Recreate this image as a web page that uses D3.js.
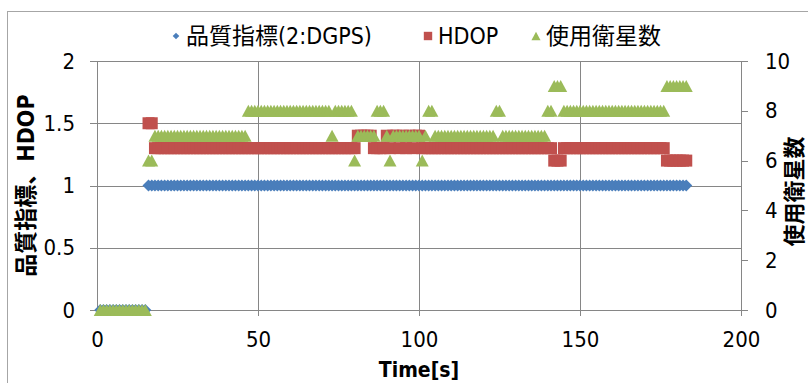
<!DOCTYPE html>
<html>
<head>
<meta charset="utf-8">
<script src="https://cdn.jsdelivr.net/npm/d3@7/dist/d3.min.js"></script>
<style>
  html, body { margin: 0; padding: 0; background: #fff; }
  svg { display: block; }
  text { font-family: "DejaVu Sans Condensed", "Noto Sans CJK JP", sans-serif; fill: #000; }
</style>
</head>
<body>
<svg id="chart" width="808" height="383"></svg>
<script>
// Sample times [s]
const timeSec = [
  1,2,3,4,5,6,7,8,9,10,11,12,13,14,15,16,17,18,19,20,
  21,22,23,24,25,26,27,28,29,30,31,32,33,34,35,36,37,38,39,40,
  41,42,43,44,45,46,47,48,49,50,51,52,53,54,55,56,57,58,59,60,
  61,62,63,64,65,66,67,68,69,70,71,72,73,74,75,76,77,78,79,80,
  81,82,83,84,85,86,87,88,89,90,91,92,93,94,95,96,97,98,99,100,
  101,102,103,104,105,106,107,108,109,110,111,112,113,114,115,116,117,118,119,120,
  121,122,123,124,125,126,127,128,129,130,131,132,133,134,135,136,137,138,139,140,
  141,142,143,144,145,146,147,148,149,150,151,152,153,154,155,156,157,158,159,160,
  161,162,163,164,165,166,167,168,169,170,171,172,173,174,175,176,177,178,179,180,
  181,182,183
];

// Fix quality indicator (2: DGPS shown as 1 on this scale)
const quality = [
  0,0,0,0,0,0,0,0,0,0,0,0,0,0,0,1,1,1,1,1,
  1,1,1,1,1,1,1,1,1,1,1,1,1,1,1,1,1,1,1,1,
  1,1,1,1,1,1,1,1,1,1,1,1,1,1,1,1,1,1,1,1,
  1,1,1,1,1,1,1,1,1,1,1,1,1,1,1,1,1,1,1,1,
  1,1,1,1,1,1,1,1,1,1,1,1,1,1,1,1,1,1,1,1,
  1,1,1,1,1,1,1,1,1,1,1,1,1,1,1,1,1,1,1,1,
  1,1,1,1,1,1,1,1,1,1,1,1,1,1,1,1,1,1,1,1,
  1,1,1,1,1,1,1,1,1,1,1,1,1,1,1,1,1,1,1,1,
  1,1,1,1,1,1,1,1,1,1,1,1,1,1,1,1,1,1,1,1,
  1,1,1
];

// HDOP (no value before the first fix)
const hdop = [
  null,null,null,null,null,null,null,null,null,null,null,null,null,null,null,1.5,1.5,1.3,1.3,1.3,
  1.3,1.3,1.3,1.3,1.3,1.3,1.3,1.3,1.3,1.3,1.3,1.3,1.3,1.3,1.3,1.3,1.3,1.3,1.3,1.3,
  1.3,1.3,1.3,1.3,1.3,1.3,1.3,1.3,1.3,1.3,1.3,1.3,1.3,1.3,1.3,1.3,1.3,1.3,1.3,1.3,
  1.3,1.3,1.3,1.3,1.3,1.3,1.3,1.3,1.3,1.3,1.3,1.3,1.3,1.3,1.3,1.3,1.3,1.3,1.3,1.3,
  1.4,1.4,1.4,1.4,1.4,1.3,1.3,1.3,1.3,1.4,1.3,1.4,1.4,1.3,1.4,1.3,1.4,1.3,1.4,1.4,
  1.3,1.3,1.3,1.3,1.3,1.3,1.3,1.3,1.3,1.3,1.3,1.3,1.3,1.3,1.3,1.3,1.3,1.3,1.3,1.3,
  1.3,1.3,1.3,1.3,1.3,1.3,1.3,1.3,1.3,1.3,1.3,1.3,1.3,1.3,1.3,1.3,1.3,1.3,1.3,1.3,
  1.3,1.2,1.2,1.2,1.3,1.3,1.3,1.3,1.3,1.3,1.3,1.3,1.3,1.3,1.3,1.3,1.3,1.3,1.3,1.3,
  1.3,1.3,1.3,1.3,1.3,1.3,1.3,1.3,1.3,1.3,1.3,1.3,1.3,1.3,1.3,1.3,1.2,1.2,1.2,1.2,
  1.2,1.2,1.2
];

// Number of satellites used
const satellites = [
  0,0,0,0,0,0,0,0,0,0,0,0,0,0,0,6,6,7,7,7,
  7,7,7,7,7,7,7,7,7,7,7,7,7,7,7,7,7,7,7,7,
  7,7,7,7,7,7,8,8,8,8,8,8,8,8,8,8,8,8,8,8,
  8,8,8,8,8,8,8,8,8,8,8,8,7,8,8,8,8,8,8,6,
  7,7,7,7,7,7,8,8,8,7,6,7,7,7,7,7,7,7,7,7,
  6,7,8,8,7,7,7,7,7,7,7,7,7,7,7,7,7,7,7,7,
  7,7,7,8,8,7,7,7,7,7,7,7,7,7,7,7,7,7,7,8,
  8,9,9,9,8,8,8,8,8,8,8,8,8,8,8,8,8,8,8,8,
  8,8,8,8,8,8,8,8,8,8,8,8,8,8,8,8,9,9,9,9,
  9,9,9
];

const seriesNames = ["品質指標(2:DGPS)", "HDOP", "使用衛星数"];
const seriesColors = ["#4A7EBB", "#C0504D", "#9BBB59"];
const xTicks = [0, 50, 100, 150, 200];
const yLeftTicks = [0, 0.5, 1, 1.5, 2];
const yRightTicks = [0, 2, 4, 6, 8, 10];

const svg = d3.select("#chart");
const plot = { left: 97, right: 741, top: 61, bottom: 310 };

const x = d3.scaleLinear().domain([0, 200]).range([plot.left, plot.right]);
const yL = d3.scaleLinear().domain([0, 2]).range([plot.bottom, plot.top]);
const yR = d3.scaleLinear().domain([0, 10]).range([plot.bottom, plot.top]);

const axisColor = "#868686";

// Chart area frame
svg.append("rect")
  .attr("x", 7.5).attr("y", 11.5).attr("width", 900).attr("height", 500)
  .attr("fill", "none").attr("stroke", "#a6a6a6").attr("stroke-width", 1);

// Gridlines
const grid = svg.append("g").attr("stroke", axisColor).attr("stroke-width", 1).attr("shape-rendering", "crispEdges");
grid.selectAll("line.h").data(yLeftTicks.filter(d => d > 0)).join("line")
  .attr("class", "h")
  .attr("x1", plot.left).attr("x2", plot.right)
  .attr("y1", d => Math.round(yL(d)) + 0.5).attr("y2", d => Math.round(yL(d)) + 0.5);
grid.selectAll("line.v").data(xTicks.filter(d => d > 0 && d < 200)).join("line")
  .attr("class", "v")
  .attr("y1", plot.top).attr("y2", plot.bottom)
  .attr("x1", d => Math.round(x(d)) + 0.5).attr("x2", d => Math.round(x(d)) + 0.5);

// Axes
function styleAxis(g, size) {
  g.select(".domain").attr("stroke", axisColor);
  g.selectAll(".tick line").attr("stroke", axisColor);
  g.selectAll(".tick text").attr("font-size", size).attr("fill", "#000");
  g.attr("shape-rendering", "crispEdges");
}

svg.append("g")
  .attr("transform", `translate(${plot.left},0)`)
  .call(d3.axisLeft(yL).tickValues(yLeftTicks).tickFormat(d3.format("~g")).tickSize(7).tickSizeOuter(0).tickPadding(15))
  .call(g => styleAxis(g, 22));

svg.append("g")
  .attr("transform", `translate(${plot.right},0)`)
  .call(d3.axisRight(yR).tickValues(yRightTicks).tickFormat(d3.format("d")).tickSize(7).tickSizeOuter(0).tickPadding(17))
  .call(g => styleAxis(g, 22));

svg.append("g")
  .attr("transform", `translate(0,${plot.bottom})`)
  .call(d3.axisBottom(x).tickValues(xTicks).tickFormat(d3.format("d")).tickSize(6).tickSizeOuter(0).tickPadding(15))
  .call(g => styleAxis(g, 22));

// Marker shapes
const diamond = { draw(ctx) { const r = 6; ctx.moveTo(0, -r); ctx.lineTo(r, 0); ctx.lineTo(0, r); ctx.lineTo(-r, 0); ctx.closePath(); } };
const square = { draw(ctx) { const r = 6; ctx.rect(-r, -r, 2 * r, 2 * r); } };
const triangle = { draw(ctx) { const w = 6.5, h = 6; ctx.moveTo(0, -h); ctx.lineTo(w, h); ctx.lineTo(-w, h); ctx.closePath(); } };

const series = [
  { values: quality, scale: yL, shape: diamond, color: seriesColors[0] },
  { values: hdop, scale: yL, shape: square, color: seriesColors[1] },
  { values: satellites, scale: yR, shape: triangle, color: seriesColors[2] }
];

series.forEach(s => {
  const pts = timeSec.map((t, i) => ({ t, v: s.values[i] })).filter(d => d.v !== null);
  svg.append("g").selectAll("path").data(pts).join("path")
    .attr("d", d3.symbol().type(s.shape)())
    .attr("transform", d => `translate(${x(d.t)},${s.scale(d.v)})`)
    .attr("fill", s.color);
});

// Legend
const legendY = 36;
const legendItems = [
  { name: seriesNames[0], shape: diamond, color: seriesColors[0], sx: 176, scale: 0.55 },
  { name: seriesNames[1], shape: square, color: seriesColors[1], sx: 428, scale: 0.7 },
  { name: seriesNames[2], shape: triangle, color: seriesColors[2], sx: 536, scale: 0.7 }
];
const legend = svg.append("g");
legendItems.forEach(it => {
  legend.append("path")
    .attr("d", d3.symbol().type(it.shape)())
    .attr("transform", `translate(${it.sx},${legendY}) scale(${it.scale})`)
    .attr("fill", it.color);
  legend.append("text")
    .attr("x", it.sx + 10).attr("y", legendY)
    .attr("dy", "0.35em")
    .attr("font-size", 23)
    .text(it.name);
});

// Axis titles
svg.append("text")
  .attr("transform", `translate(26,${(plot.top + plot.bottom) / 2}) rotate(-90)`)
  .attr("text-anchor", "middle").attr("dy", "0.35em")
  .attr("font-size", 23).attr("font-weight", "bold")
  .text("品質指標、HDOP");

svg.append("text")
  .attr("transform", `translate(794,${(plot.top + plot.bottom) / 2 + 6}) rotate(-90)`)
  .attr("text-anchor", "middle").attr("dy", "0.35em")
  .attr("font-size", 22).attr("font-weight", "bold")
  .text("使用衛星数");

svg.append("text")
  .attr("x", (plot.left + plot.right) / 2).attr("y", 377)
  .attr("text-anchor", "middle")
  .attr("font-size", 21).attr("font-weight", "bold")
  .text("Time[s]");
</script>
</body>
</html>
